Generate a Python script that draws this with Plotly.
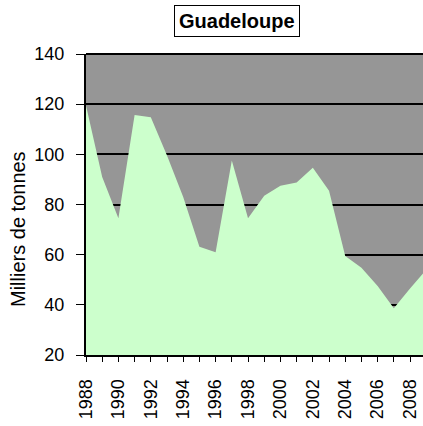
import plotly.graph_objects as go

years = list(range(1988, 2010))
values = [119.5, 91, 74.5, 115.7, 114.8, 99.5, 83, 63.2, 61, 97.5, 74.5,
          83.5, 87.5, 88.8, 94.7, 85.5, 59.5, 54.8, 47.5, 38.6, 46.5, 54]
year_ticks = list(range(1988, 2009, 2))
y_ticks = [20, 40, 60, 80, 100, 120, 140]
title_text = "Guadeloupe"
y_title = "Milliers de tonnes"

fig = go.Figure()
fig.add_trace(go.Scatter(
    x=years, y=values, mode="lines", fill="tozeroy",
    line=dict(width=0, color="#CCFFCC"), fillcolor="#CCFFCC",
    hoverinfo="skip", showlegend=False,
))

font_family = "Liberation Sans, Arial, sans-serif"
L, R, T, B = 86, 0, 54, 71
W, H = 423, 426
PW, PH = W - L - R, H - T - B

fig.update_layout(
    width=W, height=H,
    margin=dict(l=L, r=R, t=T, b=B, autoexpand=False),
    paper_bgcolor="white", plot_bgcolor="#969696",
    font=dict(family=font_family, color="black"),
    showlegend=False,
    xaxis=dict(
        range=[1988, 2008.8], tickvals=year_ticks,
        ticktext=[str(y) for y in year_ticks],
        tickangle=-90, ticks="outside", ticklen=5, tickwidth=1, tickcolor="black",
        minor=dict(dtick=1, tick0=1988, ticks="outside", ticklen=5, tickcolor="black", showgrid=False),
        showgrid=False, showline=True, linecolor="black", linewidth=2,
        tickfont=dict(size=18), ticklabelstandoff=10, zeroline=False, automargin=False,
    ),
    yaxis=dict(
        range=[20, 140], tickvals=y_ticks, ticks="outside", ticklen=8, tickwidth=1,
        tickcolor="black", showgrid=True, gridcolor="black", gridwidth=1.5,
        showline=True, linecolor="black", linewidth=2,
        tickfont=dict(size=18), ticklabelstandoff=8, zeroline=False, automargin=False,
    ),
    annotations=[
        dict(
            text="<b>" + title_text + "</b>", xref="paper", yref="paper",
            x=(236.5 - L) / PW, y=(H - B - 21.5) / PH,
            xanchor="center", yanchor="middle",
            showarrow=False, font=dict(size=20, color="black"),
            bordercolor="black", borderwidth=1, borderpad=4, bgcolor="white",
        ),
        dict(
            text=y_title, xref="paper", yref="paper",
            x=(18 - L) / PW, y=(H - B - 229) / PH,
            xanchor="center", yanchor="middle", textangle=-90,
            showarrow=False, font=dict(size=20, color="black"),
        ),
    ],
    shapes=[dict(type="line", xref="paper", yref="paper", x0=0, x1=1, y0=1, y1=1,
                 line=dict(color="black", width=2))],
)

fig.write_html("out.html", config={"displayModeBar": False},
               post_script="document.body.style.margin='0';document.body.style.padding='0';")
